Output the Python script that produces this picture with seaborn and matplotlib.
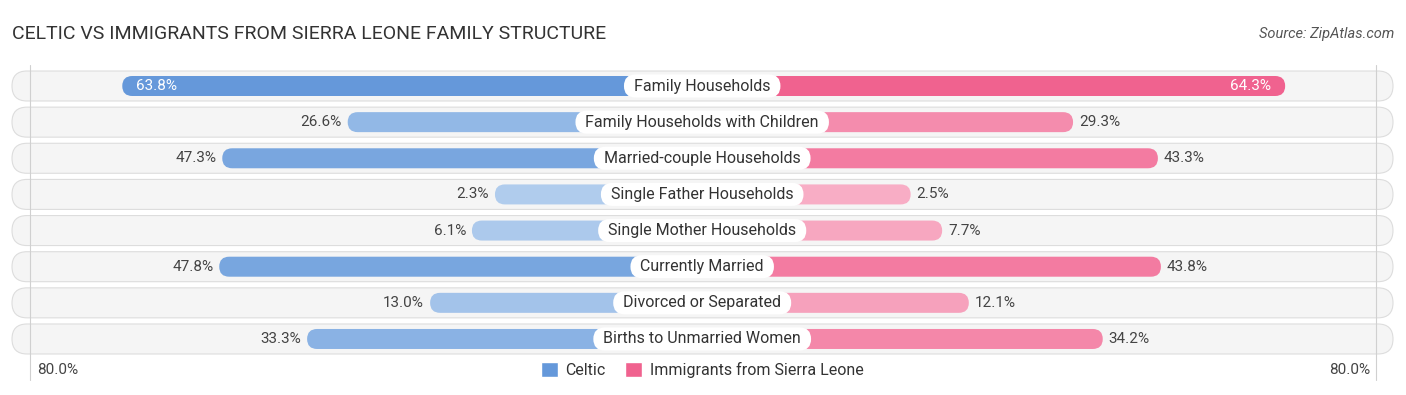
import numpy as np
import pandas as pd
import seaborn as sns
import matplotlib.pyplot as plt
from matplotlib.patches import FancyBboxPatch, Rectangle
from matplotlib.colors import to_rgb

# data
categories = [
    "Family Households",
    "Family Households with Children",
    "Married-couple Households",
    "Single Father Households",
    "Single Mother Households",
    "Currently Married",
    "Divorced or Separated",
    "Births to Unmarried Women",
]
celtic = [63.8, 26.6, 47.3, 2.3, 6.1, 47.8, 13.0, 33.3]
sierra_leone = [64.3, 29.3, 43.3, 2.5, 7.7, 43.8, 12.1, 34.2]
series_names = ["Celtic", "Immigrants from Sierra Leone"]
axis_label = "80.0%"

# layout (pixels of the 1406x395 output)
W, H = 1406, 395
CX = 702.2      # centre line
PX = 6.06       # pixels per percentage point
ROW = 36.14     # pixels between rows
TOP = 86        # centre of the first row
OFF = 193.3 / PX  # room kept for the centre label
BAR_H = 20 / ROW

blue_strong, blue_light = "#6498DA", "#B3CEEE"
pink_strong, pink_light = "#F0628F", "#F8B0C7"


def shade(light, strong, t):
    a, b = np.array(to_rgb(light)), np.array(to_rgb(strong))
    return tuple(a + (b - a) * t)


def px_x(p):
    return (p - CX) / PX


def px_y(p):
    return (p - TOP) / ROW


sns.set_theme(style="white")
plt.rcParams["font.family"] = ["Roboto", "DejaVu Sans"]

fig = plt.figure(figsize=(W / 100, H / 100), dpi=100)
ax = fig.add_axes([0, 0, 1, 1])
aspect = PX / ROW  # keeps rounded corners circular on screen

vmax = max(max(celtic), max(sierra_leone))
n = len(categories)

# row backgrounds
for i in range(n):
    h = 30 / ROW
    ax.add_patch(FancyBboxPatch((px_x(12), i - h / 2), px_x(1393) - px_x(12), h,
                                boxstyle=f"round,pad=0,rounding_size={15 / PX}",
                                mutation_aspect=aspect, fc="#F5F5F5", ec="#DDDDDD",
                                lw=0.8, zorder=0))

# faint guide lines
for gx in (30, 1376):
    ax.plot([px_x(gx)] * 2, [px_y(65), px_y(380)], color="#D0D0D0", lw=0.8, zorder=0.5)

# bars with seaborn, then rounded
df = pd.DataFrame({"category": categories,
                   "left": -(OFF + np.array(celtic)),
                   "right": OFF + np.array(sierra_leone)})
for col, vals, light, strong in (("left", celtic, blue_light, blue_strong),
                                 ("right", sierra_leone, pink_light, pink_strong)):
    before = len(ax.patches)
    sns.barplot(data=df, x=col, y="category", order=categories, orient="h",
                width=BAR_H, color=strong, ax=ax)
    new = ax.patches[before:]
    for p, v in zip(list(new), vals):
        x, y, w, h = p.get_x(), p.get_y(), p.get_width(), p.get_height()
        p.remove()
        ax.add_patch(FancyBboxPatch((min(x, x + w), y), abs(w), h,
                                    boxstyle=f"round,pad=0,rounding_size={h / aspect / 2}",
                                    mutation_aspect=aspect, lw=0,
                                    fc=shade(light, strong, v / vmax), zorder=2))

ax.set_xlim(px_x(0), px_x(W))
ax.set_ylim(px_y(H), px_y(0))
ax.axis("off")

# value labels
for i, (a, b) in enumerate(zip(celtic, sierra_leone)):
    if a > 55:
        ax.text(-(OFF + a) + 14 / PX, i, f"{a:.1f}%", ha="left", va="center",
                color="white", fontsize=11, zorder=6)
    else:
        ax.text(-(OFF + a) - 6 / PX, i, f"{a:.1f}%", ha="right", va="center",
                color="#444444", fontsize=11, zorder=6)
    if b > 55:
        ax.text(OFF + b - 14 / PX, i, f"{b:.1f}%", ha="right", va="center",
                color="white", fontsize=11, zorder=6)
    else:
        ax.text(OFF + b + 6 / PX, i, f"{b:.1f}%", ha="left", va="center",
                color="#444444", fontsize=11, zorder=6)

# centre labels on white pills
renderer = fig.canvas.get_renderer()
for i, cat in enumerate(categories):
    t = ax.text(0, i, cat, ha="center", va="center", fontsize=11.5,
                color="#333333", zorder=6)
    tw = t.get_window_extent(renderer).width / PX + 20 / PX
    th = 23 / ROW
    ax.add_patch(FancyBboxPatch((-tw / 2, i - th / 2), tw, th,
                                boxstyle=f"round,pad=0,rounding_size={th / aspect / 2}",
                                mutation_aspect=aspect, fc="white", ec="none", zorder=5))

# axis end labels
ax.text(px_x(37), px_y(370), axis_label, ha="left", va="center", fontsize=11, color="#444444")
ax.text(px_x(1370), px_y(370), axis_label, ha="right", va="center", fontsize=11, color="#444444")

handles = [Rectangle((0, 0), 1, 1, fc=blue_strong), Rectangle((0, 0), 1, 1, fc=pink_strong)]
fig.legend(handles, series_names, loc="center", bbox_to_anchor=(CX / W, 1 - 370 / H),
           ncol=2, frameon=False, fontsize=11.5, handlelength=1.05, handleheight=1.05,
           handletextpad=0.5, columnspacing=1.2, labelcolor="#333333")

fig.text(12 / W, 1 - 34 / H, "CELTIC VS IMMIGRANTS FROM SIERRA LEONE FAMILY STRUCTURE",
         fontsize=14, color="#333333", va="center", ha="left")
fig.text(1394 / W, 1 - 34 / H, "Source: ZipAtlas.com", fontsize=10.5, color="#555555",
         va="center", ha="right", style="italic")

fig.savefig("out.png", dpi=100)
